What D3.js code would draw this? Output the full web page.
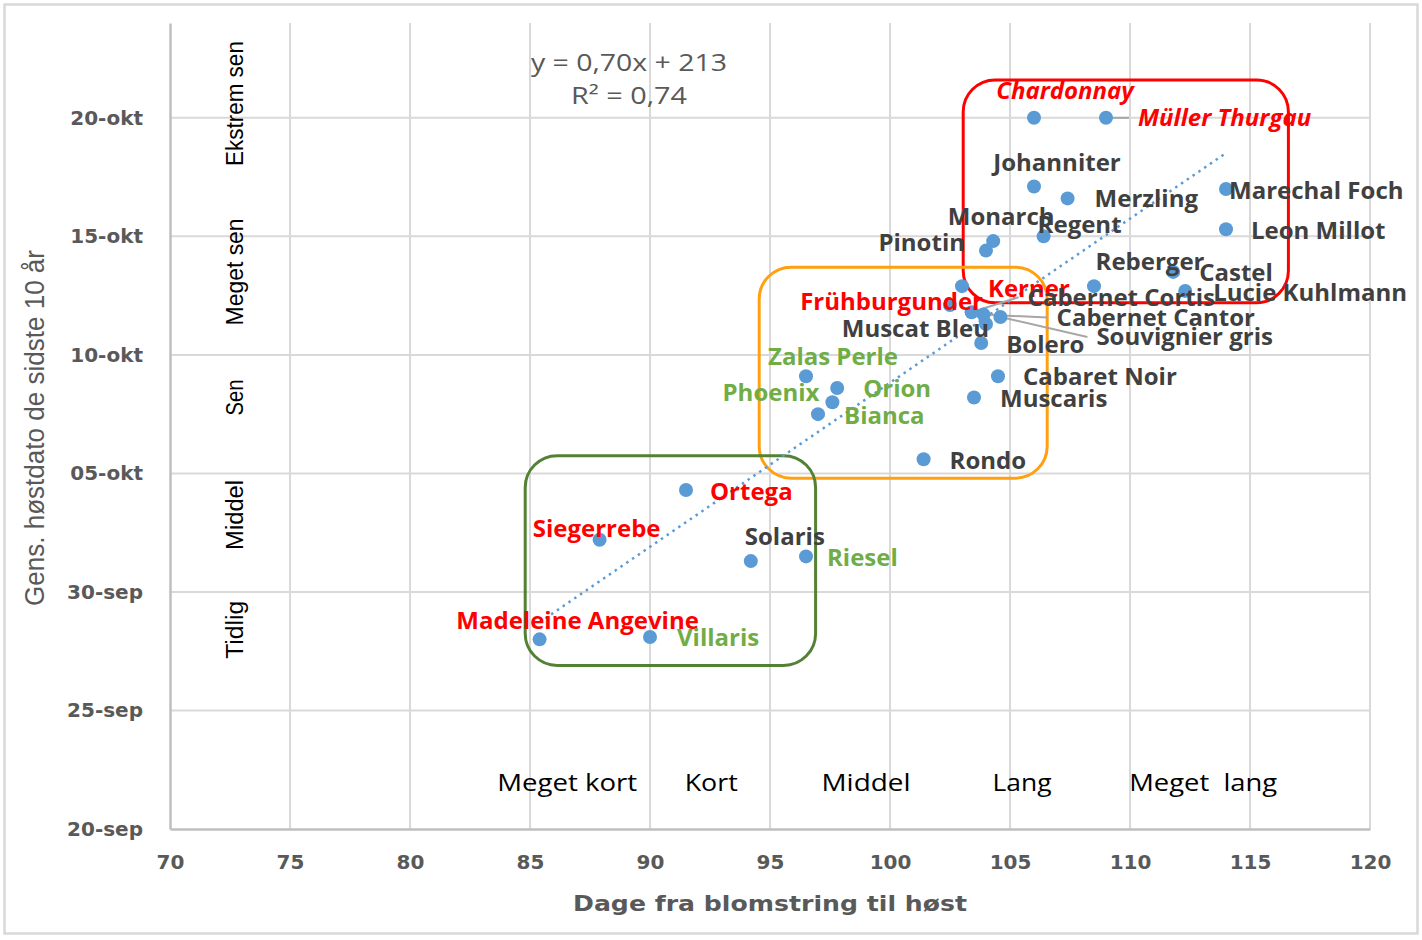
<!DOCTYPE html>
<html><head><meta charset="utf-8">
<script src="https://cdn.jsdelivr.net/npm/d3@7"></script>
<style>body{margin:0;background:#fff} svg{display:block}</style>
</head><body>
<svg id="chart" width="1422" height="940"></svg>
<script>
// ---------- DATA ----------
const varieties = ["Chardonnay","Müller Thurgau","Johanniter","Merzling","Marechal Foch","Leon Millot","Monarch","Pinotin","Regent","Reberger","Castel","Lucie Kuhlmann","Kerner","Cabernet Cortis","Frühburgunder","Cabernet Cantor","Muscat Bleu","Souvignier gris","Bolero","Zalas Perle","Orion","Phoenix","Bianca","Cabaret Noir","Muscaris","Rondo","Ortega","Siegerrebe","Solaris","Riesel","Madeleine Angevine","Villaris"];
// days from flowering to harvest
const daysFlowerToHarvest = [106.0,109.0,106.0,107.4,114.0,114.0,104.3,104.0,106.4,108.5,111.8,112.3,103.0,103.4,102.5,103.9,104.0,104.6,103.8,96.5,97.8,97.6,97.0,104.5,103.5,101.4,91.5,87.9,94.2,96.5,85.4,90.0];
// average harvest date, day of year (263 = 20-sep, 293 = 20-okt)
const harvestDayOfYear = [293.0,293.0,290.1,289.6,290.0,288.3,287.8,287.4,288.0,285.9,286.5,285.7,285.9,284.8,285.1,284.7,284.3,284.6,283.5,282.1,281.6,281.0,280.5,282.1,281.2,278.6,277.3,275.2,274.3,274.5,271.0,271.1];
// colour group of the label
const labelGroup = ["red","red","dark","dark","dark","dark","dark","dark","dark","dark","dark","dark","red","dark","red","dark","dark","dark","dark","green","green","green","green","dark","dark","dark","red","red","dark","green","red","green"];
const italicLabels = ["Chardonnay","Müller Thurgau"];

const xTicks = [70,75,80,85,90,95,100,105,110,115,120];
const yTickDays = [263,268,273,278,283,288,293];
const yTickLabels = ["20-sep","25-sep","30-sep","05-okt","10-okt","15-okt","20-okt"];
const xDomain = [70,120];
const yDomain = [263,297];

const harvestClasses = ["Ekstrem sen","Meget sen","Sen","Middel","Tidlig"];
const harvestClassDay = [293.6,286.5,281.2,276.25,271.4];
const lengthClasses = ["Meget kort","Kort","Middel","Lang","Meget  lang"];
const lengthClassDays = [86.55,92.55,99.0,105.5,113.05];

const boxNames = ["red","orange","green"];
const boxX0 = [103.05,94.55,84.8];
const boxX1 = [116.6,106.55,96.9];
const boxY0 = [285.2,277.8,269.9];
const boxY1 = [294.6,286.7,278.75];

const equationLines = ["y = 0,70x + 213","R² = 0,74"];

// ---------- LAYOUT (label placement, px) ----------
const labelDx = [31,32,23,27,3,25,8,-21,36,56,26,28,26,56,33,73,3,96,25,27,26,-13,26,25,26,26,24,-3,34,21,38,27];
const labelDy = [-27,0,-24,0,2,1,-25,-8,-12,-25,1,2,2,-15,-4,3,4,20,1,-20,0,-10,1,0,1,1,1,-11,-25,1,-19,1];
const labelAnchor = ["middle","start","middle","start","start","start","middle","end","middle","middle","start","start","start","start","end","start","end","start","start","middle","start","end","start","start","start","start","start","middle","middle","start","middle","start"];
const leaderLabels = ["Müller Thurgau","Cabernet Cortis","Cabernet Cantor","Souvignier gris"];

// ---------- DRAW ----------
const svg = d3.select("#chart");
const W = 1422, H = 940;
const x = d3.scaleLinear().domain(xDomain).range([170,1370]);
const y = d3.scaleLinear().domain(yDomain).range([829,23]);

const colors = {red:"#ff0000", green:"#70ad47", dark:"#404040"};
const boxColors = {red:"#ff0000", orange:"#ffa010", green:"#548235"};

svg.append("rect").attr("width",W).attr("height",H).attr("fill","#fff");
svg.append("rect").attr("x",4.5).attr("y",4.5).attr("width",1413).attr("height",929)
  .attr("fill","none").attr("stroke","#d9d9d9").attr("stroke-width",2.5);

// gridlines
const grid = svg.append("g");
grid.selectAll("line.v").data(xTicks.slice(1)).join("line")
  .attr("x1",d=>x(d)).attr("x2",d=>x(d)).attr("y1",y(yDomain[1])).attr("y2",y(yDomain[0]))
  .attr("stroke","#d9d9d9").attr("stroke-width",2);
grid.selectAll("line.h").data(yTickDays.slice(1)).join("line")
  .attr("x1",x(xDomain[0])).attr("x2",x(xDomain[1])).attr("y1",d=>y(d)).attr("y2",d=>y(d))
  .attr("stroke","#d9d9d9").attr("stroke-width",2);

// axes
const xAxis = d3.axisBottom(x).tickValues(xTicks).tickSize(0).tickPadding(26).tickFormat(d=>d);
const gx = svg.append("g").attr("transform",`translate(0,${y(yDomain[0])})`).call(xAxis);
gx.select(".domain").attr("stroke","#bfbfbf").attr("stroke-width",2.5);
gx.selectAll("text").attr("font-family","DejaVu Sans").attr("font-weight","bold")
  .attr("font-size",20).attr("fill","#595959");

const yAxis = d3.axisLeft(y).tickValues(yTickDays).tickSize(0).tickPadding(27)
  .tickFormat((d,i)=>yTickLabels[i]);
const gy = svg.append("g").attr("transform",`translate(${x(xDomain[0])},0)`).call(yAxis);
gy.select(".domain").attr("stroke","#bfbfbf").attr("stroke-width",2.5);
gy.selectAll("text").attr("font-family","DejaVu Sans").attr("font-weight","bold")
  .attr("font-size",20).attr("fill","#595959");

// axis titles
svg.append("text").attr("x",770).attr("y",911).attr("text-anchor","middle")
  .attr("font-family","DejaVu Sans").attr("font-weight","bold").attr("font-size",22)
  .attr("fill","#595959").attr("textLength",394).attr("lengthAdjust","spacingAndGlyphs")
  .text("Dage fra blomstring til høst");
svg.append("text").attr("transform","translate(44,428) rotate(-90)").attr("text-anchor","middle")
  .attr("font-family","Liberation Sans Narrow, Liberation Sans, sans-serif").attr("font-size",27)
  .attr("fill","#595959").attr("textLength",356).attr("lengthAdjust","spacingAndGlyphs")
  .text("Gens. høstdato de sidste 10 år");

// harvest class labels (vertical)
const hcLen = [125,107,36,70,58];
svg.append("g").selectAll("text").data(harvestClasses).join("text")
  .attr("transform",(d,i)=>`translate(${x(72.7)+8},${y(harvestClassDay[i])}) rotate(-90)`)
  .attr("text-anchor","middle").attr("font-family","Liberation Sans Narrow, Liberation Sans, sans-serif")
  .attr("font-size",23).attr("fill","#000")
  .attr("textLength",(d,i)=>hcLen[i]).attr("lengthAdjust","spacingAndGlyphs").text(d=>d);

// length class labels
const lcLen = [140,53,89,59,148];
svg.append("g").selectAll("text").data(lengthClasses).join("text")
  .attr("x",(d,i)=>x(lengthClassDays[i])).attr("y",y(264.95)+8)
  .attr("text-anchor","middle").attr("font-family","Open Sans").attr("font-size",23).attr("fill","#000")
  .attr("textLength",(d,i)=>lcLen[i]).attr("lengthAdjust","spacingAndGlyphs")
  .attr("xml:space","preserve").style("white-space","pre").text(d=>d);

// equation
svg.append("g").selectAll("text").data(equationLines).join("text")
  .attr("x",629).attr("y",(d,i)=>71+i*33).attr("text-anchor","middle")
  .attr("font-family","Open Sans").attr("font-size",24).attr("fill","#595959")
  .attr("textLength",(d,i)=>[196,116][i]).attr("lengthAdjust","spacingAndGlyphs").text(d=>d);

// rounded group boxes
svg.append("g").selectAll("rect").data(boxNames).join("rect")
  .attr("x",(d,i)=>x(boxX0[i])).attr("y",(d,i)=>y(boxY1[i]))
  .attr("width",(d,i)=>x(boxX1[i])-x(boxX0[i])).attr("height",(d,i)=>y(boxY0[i])-y(boxY1[i]))
  .attr("rx",32).attr("fill","none").attr("stroke",d=>boxColors[d]).attr("stroke-width",3);

// linear trendline (least squares)
const n = varieties.length;
const mx = d3.mean(daysFlowerToHarvest), my = d3.mean(harvestDayOfYear);
let sxy=0, sxx=0;
for (let i=0;i<n;i++){ sxy+=(daysFlowerToHarvest[i]-mx)*(harvestDayOfYear[i]-my); sxx+=(daysFlowerToHarvest[i]-mx)**2; }
const slope = sxy/sxx, icpt = my - slope*mx;
const [tx0,tx1] = d3.extent(daysFlowerToHarvest);
svg.append("line").attr("x1",x(tx0)).attr("y1",y(slope*tx0+icpt)).attr("x2",x(tx1)).attr("y2",y(slope*tx1+icpt))
  .attr("stroke","#5b9bd5").attr("stroke-width",2.5).attr("stroke-dasharray","2.5,4.5").attr("stroke-linecap","butt");

// label positions
const pts = varieties.map((v,i)=>({name:v, px:x(daysFlowerToHarvest[i]), py:y(harvestDayOfYear[i]),
  lx:x(daysFlowerToHarvest[i])+labelDx[i], ly:y(harvestDayOfYear[i])+labelDy[i], anchor:labelAnchor[i], group:labelGroup[i]}));

// leader lines
svg.append("g").selectAll("line").data(pts.filter(p=>leaderLabels.includes(p.name))).join("line")
  .attr("x1",p=>p.px).attr("y1",p=>p.py).attr("x2",p=>p.lx-9).attr("y2",p=>p.ly)
  .attr("stroke","#a6a6a6").attr("stroke-width",2);

// points
svg.append("g").selectAll("circle").data(pts).join("circle")
  .attr("cx",p=>p.px).attr("cy",p=>p.py).attr("r",7).attr("fill","#5b9bd5");

// data labels
svg.append("g").selectAll("text").data(pts).join("text")
  .attr("x",p=>p.lx).attr("y",p=>p.ly+8.5).attr("text-anchor",p=>p.anchor)
  .attr("font-family","Open Sans").attr("font-weight",700).attr("font-size",24)
  .attr("font-style",p=>italicLabels.includes(p.name)?"italic":"normal")
  .attr("fill",p=>colors[p.group]).text(p=>p.name);
</script>
</body></html>
